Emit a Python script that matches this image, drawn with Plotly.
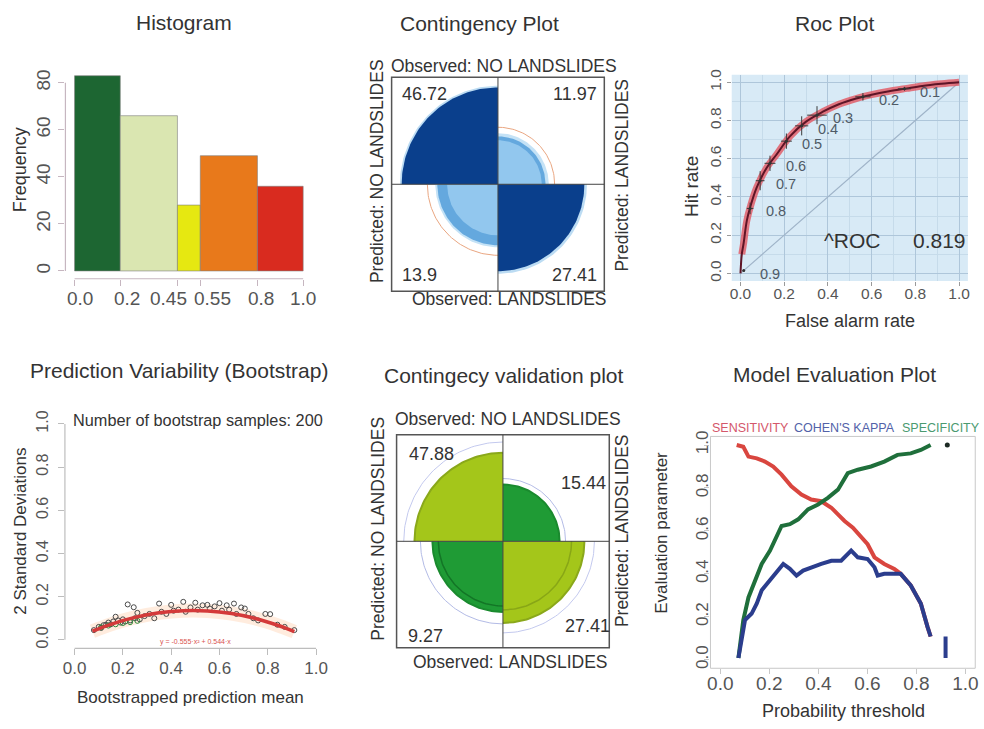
import numpy as np
import plotly.graph_objects as go

# ---------------- data ----------------
# Histogram of predicted susceptibility
hist_breaks = [0.0, 0.2, 0.45, 0.55, 0.8, 1.0]
hist_counts = [83, 66, 28, 49, 36]
hist_colors = ["#1d6632", "#dae6b1", "#e6e811", "#e8791b", "#d92b1f"]
hist_ticklabels = ["0.0", "0.2", "0.45", "0.55", "0.8", "1.0"]

# Fourfold tables (order: top-left, top-right, bottom-left, bottom-right)
cont_values = [46.72, 11.97, 13.9, 27.41]
cont_std = [0.82, 0.20, 0.325, 0.66]
cont_ci_lo = [None, 0.169, 0.228, None]
cont_ci_hi = [0.85, 0.228, 0.347, 0.70]
cont_ref = [None, 0.284, 0.441, None]

val_values = [47.88, 15.44, 9.27, 27.41]
val_std = [0.692, 0.284, 0.44, 0.587]
val_ci_lo = [None, None, 0.369, 0.416]
val_ci_hi = [0.87, 0.347, 0.602, 0.74]

# ROC curve
roc_far = [0.0, 0.006, 0.014, 0.029, 0.044, 0.074, 0.12, 0.165, 0.226, 0.30, 0.377,
           0.45, 0.529, 0.60, 0.68, 0.76, 0.832, 0.92, 1.0]
roc_hr = [0.0, 0.10, 0.155, 0.276, 0.345, 0.449, 0.553, 0.622, 0.717, 0.794, 0.846,
          0.885, 0.915, 0.935, 0.953, 0.968, 0.981, 0.992, 1.0]
thresholds = ["0.1", "0.2", "0.3", "0.4", "0.5", "0.6", "0.7", "0.8", "0.9"]
thr_far = [0.75, 0.56, 0.35, 0.28, 0.21, 0.135, 0.09, 0.044, 0.015]
thr_hr = [0.966, 0.924, 0.828, 0.772, 0.692, 0.576, 0.485, 0.34, 0.015]
thr_err_far = [0.03, 0.035, 0.045, 0.03, 0.025, 0.025, 0.02, 0.015, 0.005]
thr_err_hr = [0.01, 0.02, 0.047, 0.05, 0.04, 0.04, 0.05, 0.03, 0.005]
roc_area = 0.819

# Bootstrap prediction variability
boot_x = [0.08, 0.10, 0.11, 0.12, 0.13, 0.14, 0.15, 0.16, 0.17, 0.18, 0.19, 0.20, 0.21,
          0.22, 0.23, 0.245, 0.25, 0.26, 0.27, 0.29, 0.31, 0.33, 0.35, 0.36, 0.38, 0.40,
          0.41, 0.43, 0.45, 0.46, 0.48, 0.50, 0.51, 0.53, 0.55, 0.56, 0.58, 0.60, 0.61,
          0.63, 0.64, 0.66, 0.67, 0.69, 0.705, 0.72, 0.74, 0.76, 0.79, 0.81, 0.84, 0.87, 0.91]
boot_y = [0.045, 0.06, 0.055, 0.068, 0.07, 0.08, 0.072, 0.085, 0.107, 0.09, 0.08, 0.095,
          0.085, 0.164, 0.09, 0.151, 0.10, 0.125, 0.095, 0.11, 0.12, 0.10, 0.168, 0.13,
          0.12, 0.162, 0.135, 0.14, 0.176, 0.13, 0.15, 0.172, 0.14, 0.16, 0.162, 0.145,
          0.155, 0.17, 0.135, 0.16, 0.14, 0.168, 0.12, 0.15, 0.145, 0.12, 0.10, 0.09,
          0.12, 0.119, 0.07, 0.06, 0.045]
boot_green_x = [0.11, 0.14, 0.17, 0.20, 0.23, 0.26]
boot_green_y = [0.058, 0.066, 0.072, 0.078, 0.082, 0.088]
fit_x = [0.074, 0.15, 0.25, 0.35, 0.45, 0.55, 0.65, 0.75, 0.85, 0.91]
fit_y = [0.040, 0.072, 0.104, 0.125, 0.135, 0.134, 0.122, 0.099, 0.064, 0.038]
fit_label = "y = -0.555\u00b7x\u00b2 + 0.544\u00b7x"
n_boot = 200

# Model evaluation curves
sens_x = [0.067, 0.094, 0.115, 0.149, 0.182, 0.216, 0.25, 0.29, 0.331, 0.371, 0.412, 0.453,
          0.48, 0.507, 0.541, 0.574, 0.601, 0.629, 0.669, 0.71, 0.736, 0.777, 0.818, 0.845, 0.858]
sens_y = [1.0, 0.992, 0.946, 0.938, 0.923, 0.90, 0.862, 0.808, 0.769, 0.746, 0.738, 0.708,
          0.677, 0.646, 0.615, 0.569, 0.538, 0.477, 0.446, 0.423, 0.40, 0.346, 0.262, 0.154, 0.108]
spec_x = [0.074, 0.094, 0.115, 0.142, 0.169, 0.203, 0.23, 0.25, 0.284, 0.318, 0.358, 0.399,
          0.439, 0.48, 0.52, 0.561, 0.615, 0.669, 0.723, 0.777, 0.818, 0.858]
spec_y = [0.008, 0.185, 0.29, 0.369, 0.446, 0.508, 0.569, 0.623, 0.631, 0.654, 0.70, 0.723,
          0.754, 0.792, 0.869, 0.885, 0.90, 0.923, 0.954, 0.961, 0.977, 1.0]
kappa_x = [0.074, 0.088, 0.101, 0.128, 0.149, 0.169, 0.196, 0.223, 0.257, 0.284, 0.311, 0.338,
           0.371, 0.412, 0.453, 0.493, 0.534, 0.561, 0.601, 0.629, 0.642, 0.669, 0.696, 0.736,
           0.777, 0.818, 0.845, 0.858, None, 0.919, 0.919]
kappa_y = [0.008, 0.092, 0.185, 0.215, 0.262, 0.323, 0.361, 0.40, 0.446, 0.423, 0.392, 0.415,
           0.431, 0.446, 0.461, 0.461, 0.508, 0.477, 0.469, 0.431, 0.392, 0.40, 0.40, 0.40,
           0.346, 0.262, 0.154, 0.108, None, 0.108, 0.008]
spec_last_x = [0.926]
spec_last_y = [1.0]

unit_ticks = [0.0, 0.2, 0.4, 0.6, 0.8, 1.0]
unit_ticktext = ["0.0", "0.2", "0.4", "0.6", "0.8", "1.0"]

# ---------------- helpers ----------------
W, H = 984, 729
FONT = "Liberation Sans, Arial, Helvetica, sans-serif"
TXT = "#333333"
TICK = "#555555"


def fx(px):
    return px / W


def fy(py):
    return 1 - py / H


def dom_x(left, right):
    return [fx(left), fx(right)]


def dom_y(top, bottom):
    return [fy(bottom), fy(top)]


annotations = []
shapes = []


def label(text, px, py, size, color=TXT, angle=0):
    annotations.append(dict(text=text, x=fx(px), y=fy(py), xref="paper", yref="paper",
                            showarrow=False, textangle=angle, xanchor="center",
                            yanchor="middle", font=dict(family=FONT, size=size, color=color)))


fig = go.Figure()

# ---------------- Histogram ----------------
centers = [(a + b) / 2 for a, b in zip(hist_breaks[:-1], hist_breaks[1:])]
widths = [b - a for a, b in zip(hist_breaks[:-1], hist_breaks[1:])]
fig.add_trace(go.Bar(x=centers, y=hist_counts, width=widths,
                     marker=dict(color=hist_colors, line=dict(color="#7d7d7d", width=0.6)),
                     xaxis="x", yaxis="y", hoverinfo="skip"))
AX1 = "#c6b6c0"
shapes.append(dict(type="line", xref="x", yref="y domain", x0=0, x1=1, y0=0, y1=0,
                   line=dict(color=AX1, width=1.2)))
shapes.append(dict(type="line", xref="x domain", yref="y", x0=0, x1=0, y0=0, y1=80,
                   line=dict(color=AX1, width=1.2)))
for t, px in zip(hist_ticklabels, [77, 125, 167, 211, 260, 302]):
    label(t, px, 295, 19, TICK)

# ---------------- Fourfold plots ----------------
QSTART = [90, 0, 180, 270]


def arc(q, r, n=60):
    t = np.radians(np.linspace(QSTART[q], QSTART[q] + 90, n))
    return r * np.cos(t), r * np.sin(t)


def wedge(q, r):
    x, y = arc(q, r)
    return np.r_[0, x, 0], np.r_[0, y, 0]


def add_fill(q, std, color, ax):
    x, y = wedge(q, np.sqrt(std))
    fig.add_trace(go.Scatter(x=x, y=y, fill="toself", fillcolor=color, mode="lines",
                             line=dict(width=0, color=color), xaxis="x" + ax, yaxis="y" + ax,
                             hoverinfo="skip"))


def add_arc(q, std, color, width, ax):
    x, y = arc(q, np.sqrt(std))
    fig.add_trace(go.Scatter(x=x, y=y, mode="lines", line=dict(width=width, color=color),
                             xaxis="x" + ax, yaxis="y" + ax, hoverinfo="skip"))


# contingency (blue)
for q in range(4):
    diag = q in (0, 3)
    add_fill(q, cont_ci_hi[q], "#bcdcf3" if diag else "#c4e2f6", "2")
    add_fill(q, cont_std[q], "#0a3f8c" if diag else "#64a8de", "2")
    if cont_ci_lo[q] is not None:
        add_fill(q, cont_ci_lo[q], "#92c7ee", "2")
    if cont_ref[q] is not None:
        add_arc(q, cont_ref[q], "#e9a681", 1, "2")

# validation (green)
for q in range(4):
    diag = q in (0, 3)
    add_arc(q, val_ci_hi[q], "#c3c9ee" if diag else "#b3bbe6", 1, "5")
    add_fill(q, val_std[q], "#a4c61a" if diag else "#1f9b35", "5")
    add_arc(q, val_std[q], "#8aa81a" if diag else "#1a8a2e", 2, "5")
    if val_ci_lo[q] is not None:
        add_arc(q, val_ci_lo[q], "#88a616" if diag else "#137526", 1.5, "5")

for ax in ("2", "5"):
    shapes.append(dict(type="rect", xref="x%s domain" % ax, yref="y%s domain" % ax,
                       x0=0, x1=1, y0=0, y1=1, line=dict(color="#555555", width=1.5),
                       layer="above"))
    shapes.append(dict(type="line", xref="x" + ax, yref="y" + ax, x0=-1, x1=1, y0=0, y1=0,
                       line=dict(color="#444444", width=1), layer="above"))
    shapes.append(dict(type="line", xref="x" + ax, yref="y" + ax, x0=0, x1=0, y0=-1, y1=1,
                       line=dict(color="#444444", width=1), layer="above"))

cont_pos = [(424, 89), (576, 89), (419, 272), (575, 272)]
for v, (px, py) in zip(cont_values, cont_pos):
    label("%g" % v, px, py, 18)
val_pos = [(431, 452), (584, 482), (425, 636), (588, 626)]
for v, (px, py) in zip(val_values, val_pos):
    label("%g" % v, px, py, 18)

label("Observed: NO LANDSLIDES", 504, 61, 17.5)
label("Observed: LANDSLIDES", 510, 296, 17.5)
label("Predicted: NO LANDSLIDES", 377, 167, 17.5, angle=-90)
label("Predicted: LANDSLIDES", 623, 171, 17.5, angle=-90)
label("Observed: NO LANDSLIDES", 508, 417, 17.5)
label("Observed: LANDSLIDES", 511, 662, 17.5)
label("Predicted: NO LANDSLIDES", 377, 528, 17.5, angle=-90)
label("Predicted: LANDSLIDES", 623, 530, 17.5, angle=-90)

# ---------------- ROC ----------------
shapes.append(dict(type="rect", xref="x3 domain", yref="y3 domain", x0=0, x1=1, y0=0, y1=1,
                   fillcolor="#d8eaf6", line=dict(width=0), layer="below"))
fig.add_trace(go.Scatter(x=[0, 1], y=[0, 1], mode="lines",
                         line=dict(color="#9fb3c8", width=1.2), xaxis="x3", yaxis="y3",
                         hoverinfo="skip"))
fig.add_trace(go.Scatter(x=roc_far[1:], y=roc_hr[1:], mode="lines",
                         line=dict(color="rgba(226,86,98,0.8)", width=7, shape="spline"),
                         xaxis="x3", yaxis="y3", hoverinfo="skip"))
fig.add_trace(go.Scatter(x=roc_far, y=roc_hr, mode="lines",
                         line=dict(color="#5e1527", width=2, shape="spline"),
                         xaxis="x3", yaxis="y3", hoverinfo="skip"))
fig.add_trace(go.Scatter(x=thr_far, y=thr_hr, mode="markers",
                         marker=dict(size=3, color="#333333"),
                         error_x=dict(type="data", array=thr_err_far, color="#3a3a3a",
                                      thickness=1, width=0),
                         error_y=dict(type="data", array=thr_err_hr, color="#3a3a3a",
                                      thickness=1, width=0),
                         xaxis="x3", yaxis="y3", hoverinfo="skip"))
for t, xv, yv in zip(thresholds, thr_far, thr_hr):
    annotations.append(dict(text=t, x=xv, y=yv, xref="x3", yref="y3", showarrow=False,
                            xanchor="left", yanchor="middle", xshift=14, yshift=-3,
                            font=dict(family=FONT, size=14.5, color="#4f5a66")))
label("^ROC", 855, 237, 21)
label("%.3f" % roc_area, 942, 237, 21)

# ---------------- Bootstrap variability ----------------
fig.add_trace(go.Scatter(x=fit_x, y=fit_y, mode="lines",
                         line=dict(color="rgba(255,200,160,0.35)", width=14, shape="spline"),
                         xaxis="x4", yaxis="y4", hoverinfo="skip"))
fig.add_trace(go.Scatter(x=boot_x, y=boot_y, mode="markers",
                         marker=dict(symbol="circle-open", size=5, color="#4a4a4a",
                                     line=dict(width=1)),
                         xaxis="x4", yaxis="y4", hoverinfo="skip"))
fig.add_trace(go.Scatter(x=boot_green_x, y=boot_green_y, mode="markers",
                         marker=dict(symbol="circle-open", size=5, color="#2a8a3a",
                                     line=dict(width=1)),
                         xaxis="x4", yaxis="y4", hoverinfo="skip"))
fig.add_trace(go.Scatter(x=fit_x, y=fit_y, mode="lines",
                         line=dict(color="#d43a3a", width=3.5, shape="spline"),
                         xaxis="x4", yaxis="y4", hoverinfo="skip"))
annotations.append(dict(text=fit_label, x=0.5, y=-0.01, xref="x4", yref="y4",
                        showarrow=False, font=dict(family=FONT, size=7, color="#d9534f")))
AX4 = "#bdbdbd"
shapes.append(dict(type="line", xref="x4", yref="y4 domain", x0=0, x1=1, y0=0, y1=0,
                   line=dict(color=AX4, width=1.2)))
shapes.append(dict(type="line", xref="x4 domain", yref="y4", x0=0, x1=0, y0=0, y1=1,
                   line=dict(color=AX4, width=1.2)))
label("Number of bootstrap samples: %d" % n_boot, 196, 418, 16.3)

# ---------------- Model evaluation ----------------
fig.add_trace(go.Scatter(x=sens_x, y=sens_y, mode="lines",
                         line=dict(color="#d9463f", width=4), xaxis="x6", yaxis="y6",
                         hoverinfo="skip"))
fig.add_trace(go.Scatter(x=spec_x, y=spec_y, mode="lines",
                         line=dict(color="#1f6f3b", width=4), xaxis="x6", yaxis="y6",
                         hoverinfo="skip"))
fig.add_trace(go.Scatter(x=kappa_x, y=kappa_y, mode="lines",
                         line=dict(color="#2b3d8d", width=4), xaxis="x6", yaxis="y6",
                         hoverinfo="skip"))
fig.add_trace(go.Scatter(x=spec_last_x, y=spec_last_y, mode="markers",
                         marker=dict(size=5, color="#1d2a24"), xaxis="x6", yaxis="y6",
                         hoverinfo="skip"))
shapes.append(dict(type="rect", xref="x6 domain", yref="y6 domain", x0=0, x1=1, y0=0, y1=1,
                   line=dict(color="#c8c8c8", width=1)))
label("SENSITIVITY", 752, 426, 12.5, "#d4576b")
label("COHEN'S KAPPA", 847, 426, 12.5, "#5262a8")
label("SPECIFICITY", 944, 426, 12.5, "#4a9a70")

# ---------------- titles and axis labels ----------------
label("Histogram", 182, 17, 21)
label("Contingency Plot", 479, 18, 21)
label("Roc Plot", 837, 18, 21)
label("Prediction Variability (Bootstrap)", 177, 368, 21)
label("Contingecy validation plot", 504, 373, 21)
label("Model Evaluation Plot", 837, 372, 21)

label("Frequency", 18, 165, 18, angle=-90)
label("Hit rate", 692, 182, 19, angle=-90)
label("False alarm rate", 852, 318, 18)
label("2 Standard Deviations", 18, 530, 17, angle=-90)
label("Bootstrapped prediction mean", 189, 698, 17)
label("Evaluation parameter", 663, 532, 17, angle=-90)
label("Probability threshold", 846, 712, 18)


# ---------------- axes ----------------
def axis(domain, rng, anchor, **kw):
    d = dict(domain=domain, range=rng, anchor=anchor, showgrid=False, zeroline=False,
             showline=False, fixedrange=True)
    d.update(kw)
    return d


def tickstyle(vals, text, size, color, length, standoff, angle=0):
    return dict(tickmode="array", tickvals=vals, ticktext=text, ticks="outside",
                ticklen=length, tickwidth=1, tickcolor=color, tickangle=angle,
                tickfont=dict(family=FONT, size=size, color=TICK), ticklabelstandoff=standoff)


hidden = dict(visible=False)

layout = dict(
    width=W, height=H, margin=dict(l=0, r=0, t=0, b=0),
    paper_bgcolor="white", plot_bgcolor="white", showlegend=False,
    font=dict(family=FONT, color=TXT),
    # histogram
    xaxis=axis(dom_x(62.8, 311.2), [-0.04, 1.04], "y",
               **tickstyle(hist_breaks, [""] * 6, 19, AX1, 6, 0)),
    yaxis=axis(dom_y(62.5, 275.4), [-3.32, 86.32], "x",
               **tickstyle([0, 20, 40, 60, 80], ["0", "20", "40", "60", "80"], 19, AX1, 6, 1, -90)),
    # contingency
    xaxis2=axis(dom_x(391, 605), [-1, 1], "y2", **hidden),
    yaxis2=axis(dom_y(72, 288), [-1, 1], "x2", **hidden),
    # ROC
    xaxis3=axis(dom_x(733.2, 970.8), [-0.04, 1.04], "y3",
                showgrid=True, gridcolor="#aec6da", gridwidth=1,
                minor=dict(tickvals=[0.1, 0.3, 0.5, 0.7, 0.9], showgrid=True,
                           gridcolor="#c6dbea", gridwidth=1, ticks=""),
                **tickstyle(unit_ticks, unit_ticktext, 15.5, "#9a9a9a", 4, -6)),
    yaxis3=axis(dom_y(69.3, 277.7), [-0.04, 1.04], "x3",
                showgrid=True, gridcolor="#aec6da", gridwidth=1,
                minor=dict(tickvals=[0.1, 0.3, 0.5, 0.7, 0.9], showgrid=True,
                           gridcolor="#c6dbea", gridwidth=1, ticks=""),
                **tickstyle(unit_ticks, unit_ticktext, 15.5, "#9a9a9a", 4, 0, -90)),
    # bootstrap
    xaxis4=axis(dom_x(62.3, 324.7), [-0.04, 1.04], "y4",
                **tickstyle(unit_ticks, unit_ticktext, 17, AX4, 6, -2)),
    yaxis4=axis(dom_y(413.3, 648.7), [-0.04, 1.04], "x4",
                **tickstyle(unit_ticks, unit_ticktext, 16, AX4, 6, 4, -90)),
    # validation
    xaxis5=axis(dom_x(396, 610), [-1, 1], "y5", **hidden),
    yaxis5=axis(dom_y(433, 648), [-1, 1], "x5", **hidden),
    # model evaluation
    xaxis6=axis(dom_x(711.8, 978.2), [-0.04, 1.04], "y6",
                **tickstyle(unit_ticks, unit_ticktext, 19, "#c8c8c8", 5, -7)),
    yaxis6=axis(dom_y(434.6, 668.7), [-0.04, 1.04], "x6",
                **tickstyle(unit_ticks, unit_ticktext, 17, "#c8c8c8", 5, -10, -90)),
    annotations=annotations,
    shapes=shapes,
)
fig.update_layout(**layout)

fig.write_html("out.html")
